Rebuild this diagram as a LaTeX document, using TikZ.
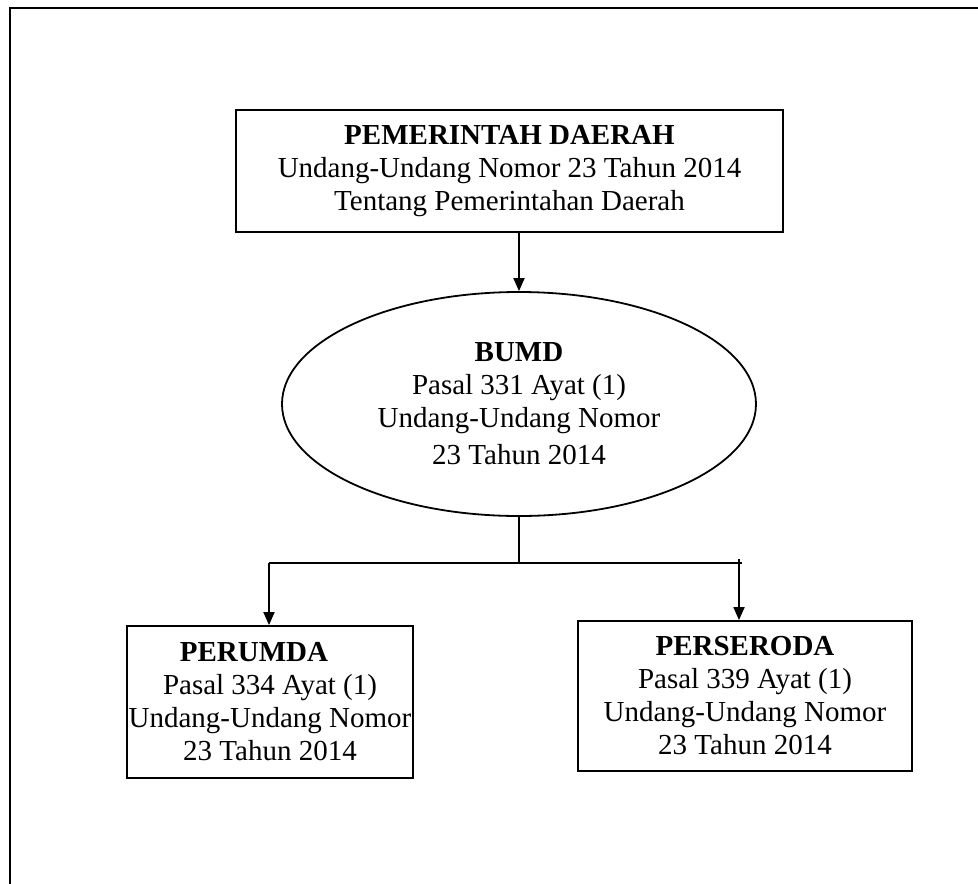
\documentclass[tikz,border=0pt]{standalone}
\usepackage{fontspec}
\setmainfont{Liberation Serif}
\usetikzlibrary{shapes.geometric,arrows.meta}
\begin{document}
\begin{tikzpicture}[x=1pt,y=-1pt,
  txt/.style={font=\fontsize{29}{33}\selectfont, align=center, inner sep=0pt},
  box/.style={txt, draw, line width=1.8pt, rectangle},
  oval/.style={txt, draw, line width=1.8pt, ellipse},
  link/.style={line width=1.8pt},
  arrowlink/.style={line width=1.8pt, -{Triangle[length=13pt,width=11pt]}}]
  \useasboundingbox (0,0) rectangle (978,884);
  % page frame
  \draw[line width=2pt] (10,1000) -- (10,7.5) -- (1100,7.5);
  % nodes
  \node[box, minimum width=547pt, minimum height=122pt] (pemda) at (509.5,171)
    {\textbf{PEMERINTAH DAERAH}\\Undang-Undang Nomor 23 Tahun 2014\\Tentang Pemerintahan Daerah};
  \node[oval, minimum width=474pt, minimum height=224pt] (bumd) at (519,404)
    {\textbf{BUMD}\\Pasal 331 Ayat (1)\\Undang-Undang Nomor\\[4pt]23 Tahun 2014};
  \node[box, minimum width=286pt, minimum height=152pt] (perumda) at (270,702)
    {\textbf{PERUMDA}\hspace*{32pt}\\Pasal 334 Ayat (1)\\Undang-Undang Nomor\\23 Tahun 2014};
  \node[box, minimum width=334pt, minimum height=150pt] (perseroda) at (745,696)
    {\textbf{PERSERODA}\\Pasal 339 Ayat (1)\\Undang-Undang Nomor\\23 Tahun 2014};
  % connectors
  \coordinate (jl) at (269,563);
  \coordinate (jr) at (739,563);
  \coordinate (jm) at (bumd.south |- jl);
  \draw[arrowlink] (pemda.south -| bumd.north) -- (bumd.north);
  \draw[link] (bumd.south) -- (jm);
  \draw[link] (jl) -- ([xshift=3pt]jr);
  \draw[arrowlink] (jl) -- (jl |- perumda.north);
  \draw[arrowlink] ([yshift=4pt]jr) -- (jr |- perseroda.north);
\end{tikzpicture}
\end{document}
